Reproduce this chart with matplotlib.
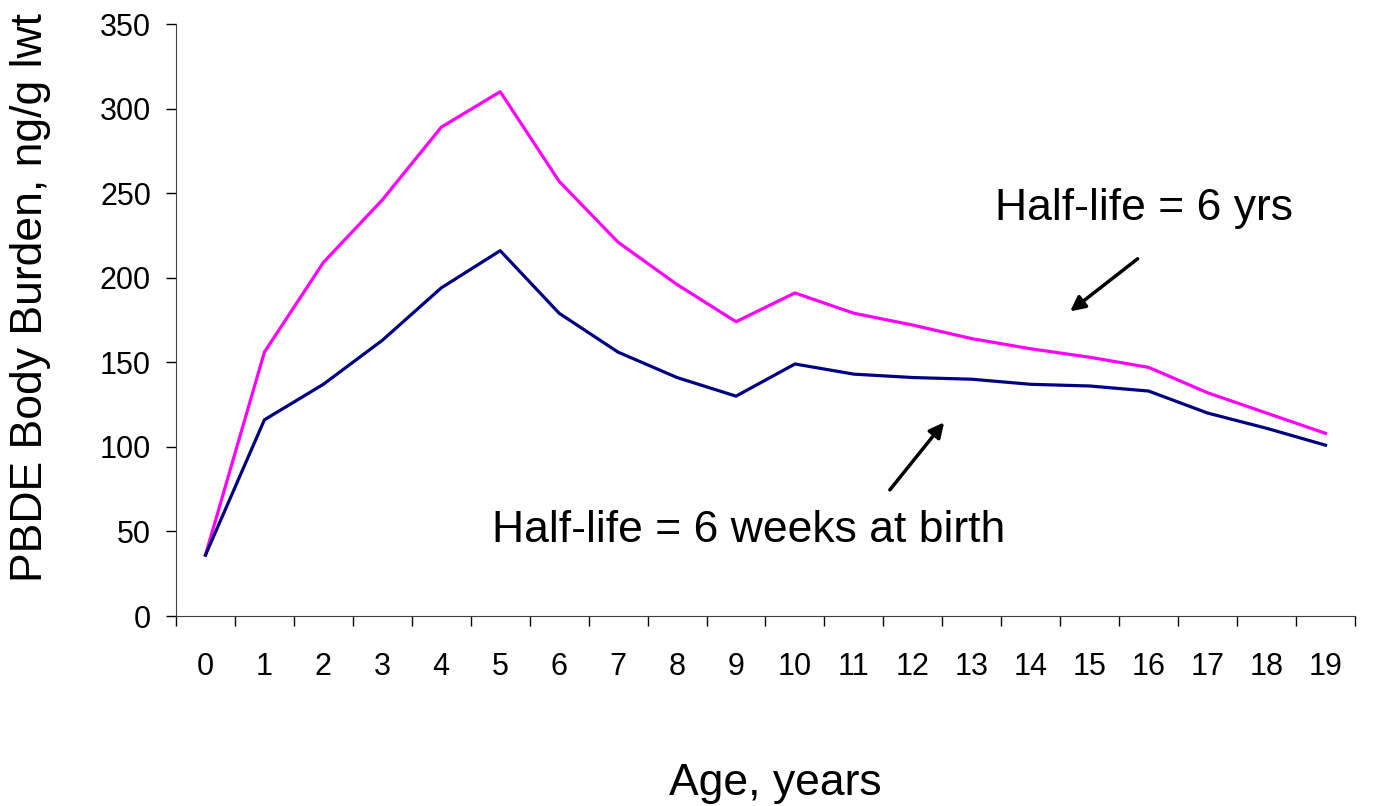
import matplotlib.pyplot as plt
import numpy as np

plt.rcParams['font.family'] = ['Liberation Sans', 'DejaVu Sans']

# ages 0..19
ages = list(range(20))
half_life_6yrs = [36, 156, 209, 246, 289, 310, 257, 221, 196, 174,
                  191, 179, 172, 164, 158, 153, 147, 132, 120, 108]
half_life_6wks = [36, 116, 137, 163, 194, 216, 179, 156, 141, 130,
                  149, 143, 141, 140, 137, 136, 133, 120, 111, 101]

fig = plt.figure(figsize=(13.78, 8.06), dpi=100)
ax = fig.add_axes([0.1277, 0.2357, 0.8556, 0.7345])

ax.plot(ages, half_life_6yrs, color='#FF00FF', lw=2.3)
ax.plot(ages, half_life_6wks, color='#000080', lw=2.3)

ax.set_xlim(-0.5, 19.5)
ax.set_ylim(0, 350)
ax.set_yticks(np.arange(0, 351, 50))

# tick marks between categories, labels at categories
ax.set_xticks(np.arange(-0.5, 20, 1))
ax.set_xticklabels([])
ax.set_xticks(ages, minor=True)
ax.set_xticklabels([str(a) for a in ages], minor=True)
ax.tick_params(axis='x', which='major', direction='out', length=7, width=1)
ax.tick_params(axis='x', which='minor', length=0, pad=26, labelsize=22)
ax.tick_params(axis='y', direction='out', length=7, width=1, pad=11, labelsize=22)

for s in ['top', 'right']:
    ax.spines[s].set_visible(False)
for s in ['left', 'bottom']:
    ax.spines[s].set_color('#404040')

fig.text(0.0218, 0.6315, 'PBDE Body Burden, ng/g lwt', rotation=90,
         ha='center', va='center', fontsize=32)
fig.text(0.5624, 0.0285, 'Age, years', ha='center', va='center', fontsize=32)

ax.text(13.39, 241, 'Half-life = 6 yrs', ha='left', va='center', fontsize=32)
ax.text(4.86, 50.8, 'Half-life = 6 weeks at birth', ha='left', va='center', fontsize=32)

ax.annotate('', xy=(14.63, 179.1), xytext=(15.85, 212.2),
            arrowprops=dict(arrowstyle='-|>', color='black', lw=2.5,
                            mutation_scale=22))
ax.annotate('', xy=(12.56, 115.8), xytext=(11.58, 73.3),
            arrowprops=dict(arrowstyle='-|>', color='black', lw=2.5,
                            mutation_scale=22))

fig.savefig('out.png', dpi=100)
